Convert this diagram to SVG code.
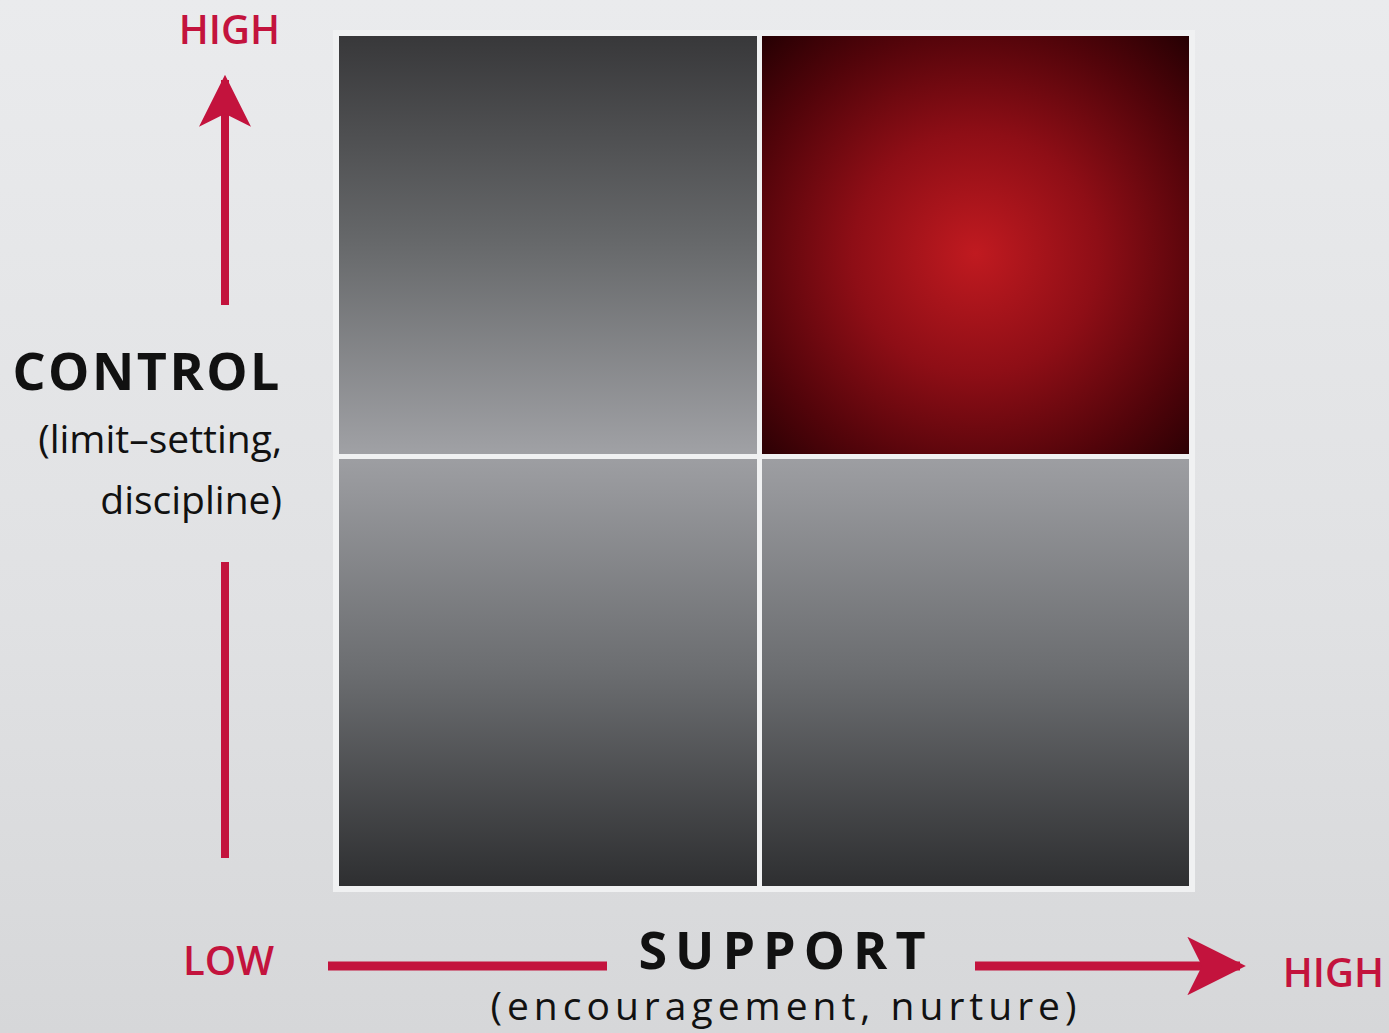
<svg xmlns="http://www.w3.org/2000/svg" width="1389" height="1033" viewBox="0 0 1389 1033">
<defs>
<linearGradient id="bg" x1="0" y1="0" x2="0" y2="1">
<stop offset="0" stop-color="#eaebed"/>
<stop offset="0.6" stop-color="#e0e1e3"/>
<stop offset="1" stop-color="#d6d7d9"/>
</linearGradient>
<linearGradient id="gTop" x1="0" y1="0" x2="0" y2="1">
<stop offset="0" stop-color="#38383a"/>
<stop offset="0.5" stop-color="#67696b"/>
<stop offset="1" stop-color="#a0a1a5"/>
</linearGradient>
<linearGradient id="gBot" x1="0" y1="0" x2="0" y2="1">
<stop offset="0" stop-color="#9d9ea2"/>
<stop offset="0.5" stop-color="#6b6d70"/>
<stop offset="1" stop-color="#2e2f31"/>
</linearGradient>
<radialGradient id="gRed" cx="0.5" cy="0.52" r="0.72" fx="0.5" fy="0.52">
<stop offset="0" stop-color="#c01a20"/>
<stop offset="0.4" stop-color="#8e0e16"/>
<stop offset="0.75" stop-color="#52040a"/>
<stop offset="1" stop-color="#260003"/>
</radialGradient>
<marker id="ah" viewBox="0 0 10 10" refX="9" refY="5" markerWidth="6.5" markerHeight="6.5" markerUnits="strokeWidth" orient="auto">
<path d="M0,0 L10,5 L0,10 L2.5,5 Z" fill="#c3133d"/>
</marker>
<style>
.red{fill:#c3133d;font-family:"Open Sans","Liberation Sans",sans-serif;font-size:40px;font-weight:600}
.lbl{fill:#111;font-family:"Open Sans","Liberation Sans",sans-serif;font-weight:700;font-size:52px}
.sub{fill:#111;font-family:"Open Sans","Liberation Sans",sans-serif;font-size:39px}
.ax{stroke:#c3133d;fill:none}
</style>
</defs>
<rect width="1389" height="1033" fill="url(#bg)"/>
<rect x="333" y="30" width="862" height="862" fill="#f0f1f2"/>
<g id="q-top-left"><rect x="339" y="36" width="418" height="418" fill="url(#gTop)"/></g>
<g id="q-top-right"><rect x="762" y="36" width="427" height="418" fill="url(#gRed)"/></g>
<g id="q-bottom-left"><rect x="339" y="459" width="418" height="427" fill="url(#gBot)"/></g>
<g id="q-bottom-right"><rect x="762" y="459" width="427" height="427" fill="url(#gBot)"/></g>
<g id="connectors">
<line class="ax" x1="225" y1="305" x2="225" y2="80" stroke-width="8" marker-end="url(#ah)"/>
<line class="ax" x1="225" y1="562" x2="225" y2="858" stroke-width="8"/>
<line class="ax" x1="328" y1="966" x2="607" y2="966" stroke-width="9"/>
<line class="ax" x1="975" y1="966" x2="1240" y2="966" stroke-width="9" marker-end="url(#ah)"/>
</g>
<g id="labels">
<text class="red" x="280" y="44" text-anchor="end">HIGH</text>
<text class="lbl" x="282" y="390" text-anchor="end" letter-spacing="2.5">CONTROL</text>
<text class="sub" x="282" y="453" text-anchor="end">(limit–setting,</text>
<text class="sub" x="282" y="514" text-anchor="end">discipline)</text>
<text class="red" x="274" y="975" text-anchor="end">LOW</text>
<text class="lbl" x="786" y="969" text-anchor="middle" letter-spacing="8">SUPPORT</text>
<text class="sub" x="786" y="1020" text-anchor="middle" letter-spacing="5">(encouragement, nurture)</text>
<text class="red" x="1384" y="987" text-anchor="end">HIGH</text>
</g>
</svg>
